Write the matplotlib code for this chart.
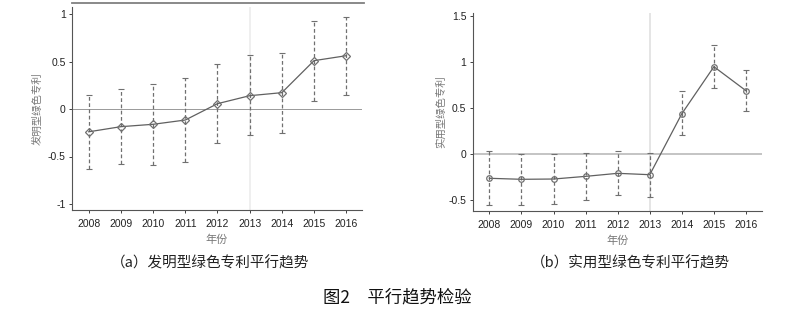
import matplotlib
matplotlib.use("Agg")
import matplotlib.pyplot as plt
from matplotlib.lines import Line2D

plt.rcParams['font.family'] = ['Liberation Sans', 'Noto Sans CJK SC', 'DejaVu Sans']

years = [2008, 2009, 2010, 2011, 2012, 2013, 2014, 2015, 2016]

inv_coef = [-0.24, -0.186, -0.161, -0.116, 0.056, 0.14, 0.172, 0.509, 0.561]
inv_hi = [0.147, 0.21, 0.26, 0.326, 0.47, 0.568, 0.586, 0.926, 0.972]
inv_lo = [-0.632, -0.579, -0.589, -0.554, -0.361, -0.277, -0.249, 0.088, 0.151]

uti_coef = [-0.264, -0.275, -0.272, -0.243, -0.21, -0.225, 0.438, 0.949, 0.688]
uti_hi = [0.033, 0.003, 0.0, 0.014, 0.029, 0.01, 0.685, 1.19, 0.913]
uti_lo = [-0.55, -0.55, -0.543, -0.504, -0.446, -0.467, 0.21, 0.714, 0.471]

inv_yticks = [-1, -0.5, 0, 0.5, 1]
inv_yticklabels = ['-1', '-0.5', '0', '0.5', '1']
uti_yticks = [-0.5, 0, 0.5, 1, 1.5]
uti_yticklabels = ['-0.5', '0', '0.5', '1', '1.5']

ylabel_a = '发明型绿色专利'
ylabel_b = '实用型绿色专利'
xlabel = '年份'
caption_a = '（a）发明型绿色专利平行趋势'
caption_b = '（b）实用型绿色专利平行趋势'
fig_title = '图2　平行趋势检验'

W, H = 800, 317
fig = plt.figure(figsize=(8, 3.17), dpi=100)

def px_axes(x0, x1, ytop, ybot):
    return fig.add_axes([x0 / W, 1 - ybot / H, (x1 - x0) / W, (ybot - ytop) / H])

cjk = ['Noto Sans CJK SC', 'DejaVu Sans']

def draw(ax, coef, lo, hi, yticks, yticklabels, ylim, marker, ylabel, zero_lw, zero_c, vline_c, lpad):
    ax.set_xlim(2007.48, 2016.49)
    ax.set_ylim(*ylim)
    ax.axhline(0, color=zero_c, lw=zero_lw, zorder=1)
    ax.axvline(2013, color=vline_c, lw=1.2, zorder=0)
    ax.vlines(years, lo, hi, colors='#707070', linestyles=(0, (3, 2)), lw=0.9, zorder=2)
    ax.scatter(years, hi, marker='_', s=14, color='#707070', linewidths=0.8, zorder=2)
    ax.scatter(years, lo, marker='_', s=14, color='#707070', linewidths=0.8, zorder=2)
    ax.plot(years, coef, color='#606060', lw=0.9, marker=marker, ms=4,
            mfc='none', mec='#707070', mew=0.9, zorder=3)
    ax.set_xticks(years)
    ax.set_xticklabels([str(y) for y in years], fontsize=7.5)
    ax.set_yticks(yticks)
    ax.set_yticklabels(yticklabels, fontsize=7.5)
    ax.tick_params(axis='both', length=2.5, width=0.6, colors='#222222', pad=2)
    ax.tick_params(axis='x', pad=4)
    for s in ['top', 'right']:
        ax.spines[s].set_visible(False)
    for s in ['left', 'bottom']:
        ax.spines[s].set_color('#555555')
        ax.spines[s].set_linewidth(0.8)
    ax.set_ylabel(ylabel, fontsize=7.5, color='#777777', family=cjk, labelpad=lpad)
    ax.set_xlabel(xlabel, fontsize=8, color='#777777', family=cjk, labelpad=4)

ax1 = px_axes(72, 362, 7, 210)
draw(ax1, inv_coef, inv_lo, inv_hi, inv_yticks, inv_yticklabels,
     ((109 - 210) / 95, (109 - 7) / 95), 'D', ylabel_a, 0.7, '#999999', '#ececec', 4)

ax2 = px_axes(472.7, 761.7, 13, 210.7)
draw(ax2, uti_coef, uti_lo, uti_hi, uti_yticks, uti_yticklabels,
     ((154 - 210.7) / 92, (154 - 13) / 92), 'o', ylabel_b, 1.4, '#c4c4c4', '#e0e0e0', 2)

# top rule line above the left panel
fig.add_artist(Line2D([72 / W, 364 / W], [1 - 2.5 / H, 1 - 2.5 / H],
                      color='#808080', lw=1.3))

fig.text(210 / W, 1 - 263 / H, caption_a, ha='center', va='center',
         fontsize=10.5, color='#222222', family=cjk)
fig.text(630 / W, 1 - 263 / H, caption_b, ha='center', va='center',
         fontsize=10.5, color='#222222', family=cjk)
fig.text(397 / W, 1 - 297 / H, fig_title, ha='center', va='center',
         fontsize=12.5, color='#111111', family=cjk)

fig.savefig('out.png', dpi=100)
